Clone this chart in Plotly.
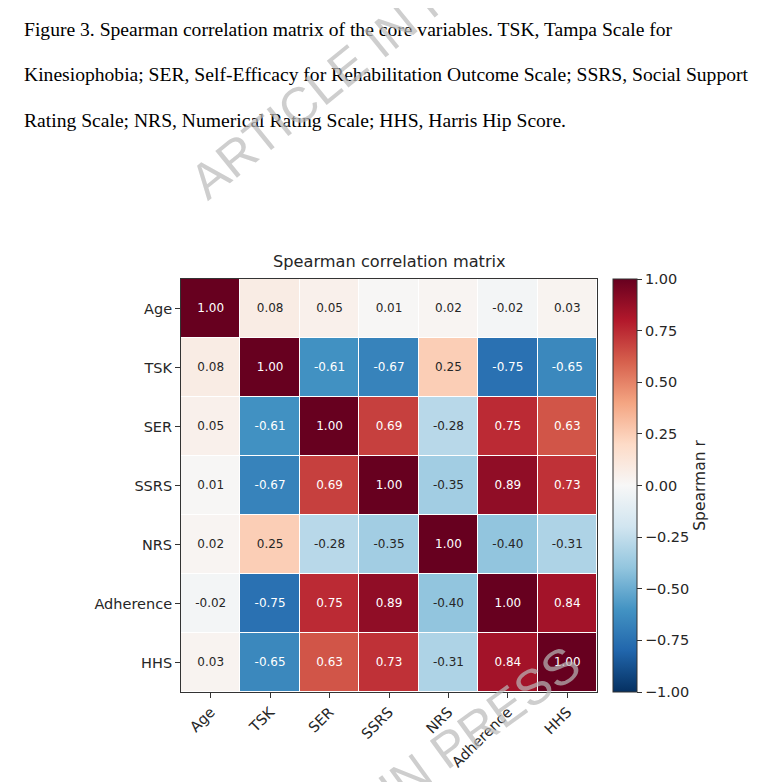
#Spearman correlation heatmap of the core variables, figure 3 page
import numpy as np
import plotly.graph_objects as go

variables = ['Age', 'TSK', 'SER', 'SSRS', 'NRS', 'Adherence', 'HHS']

# rows in the same order as variables
r_age = [1.00, 0.08, 0.05, 0.01, 0.02, -0.02, 0.03]
r_tsk = [0.08, 1.00, -0.61, -0.67, 0.25, -0.75, -0.65]
r_ser = [0.05, -0.61, 1.00, 0.69, -0.28, 0.75, 0.63]
r_ssrs = [0.01, -0.67, 0.69, 1.00, -0.35, 0.89, 0.73]
r_nrs = [0.02, 0.25, -0.28, -0.35, 1.00, -0.40, -0.31]
r_adh = [-0.02, -0.75, 0.75, 0.89, -0.40, 1.00, 0.84]
r_hhs = [0.03, -0.65, 0.63, 0.73, -0.31, 0.84, 1.00]

cbar_ticks = [-1.0, -0.75, -0.5, -0.25, 0.0, 0.25, 0.5, 0.75, 1.0]

caption = ['Figure 3. Spearman correlation matrix of the core variables. TSK, Tampa Scale for',
           'Kinesiophobia; SER, Self-Efficacy for Rehabilitation Outcome Scale; SSRS, Social Support',
           'Rating Scale; NRS, Numerical Rating Scale; HHS, Harris Hip Score.']

corr = np.array([r_age, r_tsk, r_ser, r_ssrs, r_nrs, r_adh, r_hhs])

# matplotlib RdBu_r (ColorBrewer)
rdbu_r = ['#053061', '#2166ac', '#4393c3', '#92c5de', '#d1e5f0', '#f7f7f7',
          '#fddbc7', '#f4a582', '#d6604d', '#b2182b', '#67001f']
cscale = [[i / (len(rdbu_r) - 1), c] for i, c in enumerate(rdbu_r)]

W, H = 774, 782
OFF = 8  # page body margin of the browser
L, R, T, B = 181 - OFF, 597 - OFF, 279 - OFF, 692 - OFF  # plot area in figure pixels

# screen pixel -> paper coords
def px(x):
    return (x - OFF - L) / (R - L)

def py(y):
    return (B - (y - OFF)) / (B - T)

fig = go.Figure()
fig.add_trace(go.Heatmap(
    z=corr, x=variables, y=variables,
    colorscale=cscale, zmin=-1, zmax=1,
    xgap=1, ygap=1,
    hoverinfo='skip',
    colorbar=dict(
        x=px(613), xanchor='left', xref='paper', xpad=0, ypad=0,
        y=0.5, yanchor='middle', len=1, lenmode='fraction',
        thickness=24, outlinecolor='#333333', outlinewidth=1,
        tickvals=cbar_ticks, tickformat='.2f',
        ticks='outside', ticklen=5, tickcolor='#333333',
        tickfont=dict(family='DejaVu Sans', size=14.5, color='#262626'),
        title=dict(text='Spearman r', side='right',
                   font=dict(family='DejaVu Sans', size=15.5, color='#262626')),
    ),
))

# cell labels, white on the dark cells
xs, ys, txt, cols = [], [], [], []
for i, row_name in enumerate(variables):
    for j, col_name in enumerate(variables):
        v = corr[i, j]
        xs.append(col_name)
        ys.append(row_name)
        txt.append('%.2f' % v)
        cols.append('white' if abs(v) > 0.5 else '#262626')
fig.add_trace(go.Scatter(
    x=xs, y=ys, text=txt, mode='text',
    textfont=dict(family='DejaVu Sans', size=12, color=cols),
    hoverinfo='skip', showlegend=False,
))

axis_style = dict(showline=True, mirror=True, linecolor='#333333', linewidth=1,
                  ticks='outside', ticklen=5, tickcolor='#333333', showgrid=False,
                  zeroline=False,
                  tickfont=dict(family='DejaVu Sans', size=14.5, color='#262626'))
fig.update_xaxes(tickangle=-45, **axis_style)
fig.update_yaxes(autorange='reversed', **axis_style)

annotations = []
# caption text above the figure
for k, line in enumerate(caption):
    annotations.append(dict(
        text=line, xref='paper', yref='paper', x=px(22), y=py(30 + 45 * k),
        xanchor='left', yanchor='middle', showarrow=False,
        font=dict(family='Liberation Serif', size=19.6, color='black')))

annotations.append(dict(
    text='Spearman correlation matrix', xref='paper', yref='paper',
    x=px(389), y=py(261), xanchor='center', yanchor='middle', showarrow=False,
    font=dict(family='DejaVu Sans', size=16.2, color='#262626')))

# watermark
for cx, cy, ang in [(375, 44, -39), (389, 792, -36)]:
    annotations.append(dict(
        text='ARTICLE IN PRESS', xref='paper', yref='paper',
        x=px(cx), y=py(cy), xanchor='center', yanchor='middle',
        textangle=ang, showarrow=False,
        font=dict(family='Liberation Sans', size=50, color='rgba(185,185,185,0.7)')))

annotations.append(dict(
    text='|', xref='paper', yref='paper', x=px(769), y=py(688),
    xanchor='center', yanchor='middle', showarrow=False,
    font=dict(family='DejaVu Sans', size=13, color='#222222')))

fig.update_layout(
    width=W, height=H,
    margin=dict(l=L, r=W - R, t=T, b=H - B, pad=0),
    paper_bgcolor='white', plot_bgcolor='white',
    showlegend=False,
    annotations=annotations,
)

fig.write_html("out.html")
